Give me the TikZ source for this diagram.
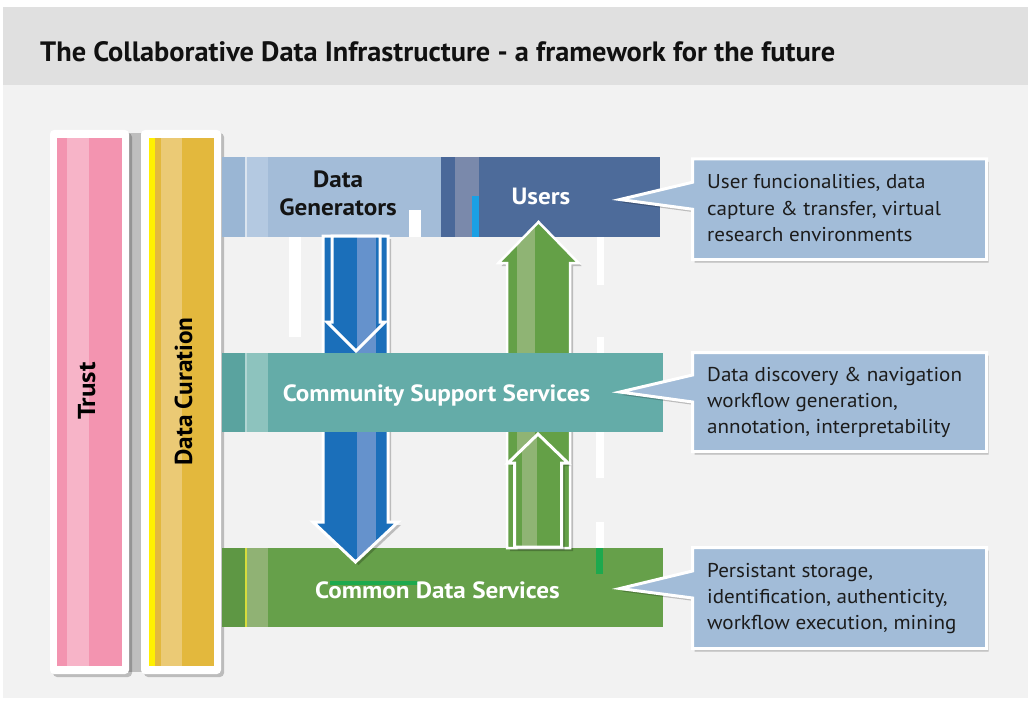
\documentclass[tikz,border=0pt]{standalone}
\usepackage{fontspec}
\usepackage{graphicx}
\setmainfont{PT Sans}
\usetikzlibrary{calc,shadows}
\definecolor{bgbar}{HTML}{E0E0E0}
\definecolor{bgmain}{HTML}{F2F2F2}
\definecolor{pinkbase}{HTML}{F394B0}
\definecolor{pinkstripe}{HTML}{F7B4C8}
\definecolor{goldbase}{HTML}{E3B83D}
\definecolor{goldstripe}{HTML}{EBCA75}
\definecolor{yellowline}{HTML}{FFF000}
\definecolor{gapgray}{HTML}{BEBEBE}
\definecolor{dgfill}{HTML}{A3BCD8}
\definecolor{dgleft}{HTML}{9AB6D4}
\definecolor{dgstripe}{HTML}{B4C9E1}
\definecolor{usersfill}{HTML}{4D6B9A}
\definecolor{usersleft}{HTML}{4A6899}
\definecolor{usersstripe}{HTML}{7A89AB}
\definecolor{cyanbar}{HTML}{1AA0E4}
\definecolor{cssfill}{HTML}{64ACA8}
\definecolor{cssleft}{HTML}{5AA39F}
\definecolor{cssstripe}{HTML}{8DC3BE}
\definecolor{cdsfill}{HTML}{66A04A}
\definecolor{cdsleft}{HTML}{5E9744}
\definecolor{cdsstripe}{HTML}{90B274}
\definecolor{cdsline}{HTML}{D6DC3C}
\definecolor{greenbar}{HTML}{1DA94E}
\definecolor{bluefill}{HTML}{1B6FBA}
\definecolor{bluestripe}{HTML}{6592CC}
\definecolor{greenfill}{HTML}{64A047}
\definecolor{greenstripe}{HTML}{8FB474}
\definecolor{callfill}{HTML}{A2BCD8}
\definecolor{calltextc}{HTML}{1C1C1C}
\definecolor{titletext}{HTML}{111111}
% #1 base coord, #2 tip coord, #3 shaft half width, #4 head half width, #5 head offset from tip (signed, y units)
\newcommand{\fatarrowpath}[5]{($(#1)+(-#3,0)$) -- ($(#1)+(#3,0)$) -- ($(#2)+(#3,#5)$) -- ($(#2)+(#4,#5)$) -- (#2) -- ($(#2)+(-#4,#5)$) -- ($(#2)+(-#3,#5)$) -- cycle}
\newcommand{\threelines}[3]{\vtop{\baselineskip=26pt\hbox{\scalebox{1.055}[1]{#1}}\hbox{\scalebox{1.055}[1]{#2}}\hbox{\scalebox{1.055}[1]{#3}}}}
\newcommand{\widebold}[1]{\scalebox{1.07}[1]{#1}}
\begin{document}
\begin{tikzpicture}[x=1pt,y=-1pt,
  band/.style={rectangle, inner sep=0pt, outer sep=0pt, draw=none},
  bandlabel/.style={inner sep=0pt, font=\fontsize{23.5}{28}\selectfont\bfseries, text=white},
  pillarlabel/.style={inner sep=0pt, font=\fontsize{24.5}{28}\selectfont\bfseries, text=black, rotate=90, anchor=base},
  calltext/.style={inner sep=0pt, anchor=base west, font=\fontsize{20}{26}\selectfont, text=calltextc},
  callbox/.style={fill=callfill, draw=white, line width=3pt, line join=miter,
    drop shadow={shadow xshift=2pt, shadow yshift=-3pt, opacity=.22, fill=black}},
  arrowline/.style={draw=white, line width=3pt, line join=miter},
  softshadow/.style={drop shadow={shadow xshift=3pt, shadow yshift=-3pt, opacity=.22, fill=black}}
]
\useasboundingbox (0,0) rectangle (1028,706);
% background
\fill[white] (0,0) rectangle (1028,706);
\fill[bgmain] (3,85) rectangle (1028,698);
\fill[bgbar] (3,7) rectangle (1028,85);
\node[anchor=base west, inner sep=0pt, text=titletext] (title) at (40,62)
  {\resizebox{795pt}{\height}{\fontsize{28}{30}\selectfont\bfseries The Collaborative Data Infrastructure - a framework for the future}};
% faint white artefacts in background
\fill[white] (289,237) rectangle (301,337);
\fill[white] (597,237) rectangle (604,285);
\fill[white] (597,337) rectangle (604,353);
\fill[white] (596,432) rectangle (604,478);
\fill[white] (596,522) rectangle (604,548);
% pillars
\fill[gapgray] (128,133) rectangle (142,672);
\node[band, fill=white, rounded corners=4pt, minimum width=79pt, minimum height=544pt, softshadow] (trustframe) at (89.5,402) {};
\node[band, fill=pinkbase, minimum width=65pt, minimum height=528pt] (trust) at (89.5,402) {};
\fill[pinkstripe] (67,138) rectangle (89,666);
\node[band, fill=white, rounded corners=4pt, minimum width=80pt, minimum height=544pt, softshadow] (curframe) at (181,402) {};
\node[band, fill=goldbase, minimum width=65pt, minimum height=528pt] (curation) at (181.5,402) {};
\fill[yellowline] (149,138) rectangle (155,666);
\fill[goldstripe] (161,138) rectangle (182,666);
\node[pillarlabel] (trustlbl) at (95,391) {\scalebox{1.1}[1]{Trust}};
\node[pillarlabel] (curlbl) at (192,391.5) {\scalebox{1.03}[1]{Data Curation}};
% top band
\node[band, fill=dgfill, minimum width=219pt, minimum height=80pt] (dg) at (331.5,197) {};
\fill[dgleft] (222,157) rectangle (245,237);
\fill[white!60!dgfill] (245,157) rectangle (246.5,237);
\fill[dgstripe] (246.5,157) rectangle (268,237);
\fill[white] (409,210) rectangle (421,237);
\node[band, fill=usersfill, minimum width=219pt, minimum height=80pt] (users) at (550.5,197) {};
\fill[usersleft] (441,157) rectangle (455,237);
\fill[usersstripe] (455,157) rectangle (479,237);
\fill[cyanbar] (472,196) rectangle (479,237);
% common data services band
\node[band, fill=cdsfill, minimum width=441pt, minimum height=79pt] (cds) at (442.5,587.5) {};
\fill[cdsleft] (222,548) rectangle (245,627);
\fill[cdsline] (245,548) rectangle (246.5,627);
\fill[cdsstripe] (246.5,548) rectangle (268,627);
\fill[greenbar] (596,548) rectangle (603,574);
\fill[greenbar] (330,581) rectangle (418,585);
% long arrows
\coordinate (bluetop) at (355.5,236);
\coordinate (bluetip) at (355.5,562);
\fill[bluefill, softshadow] \fatarrowpath{bluetop}{bluetip}{32.5}{42.5}{-40};
\begin{scope}
  \clip \fatarrowpath{bluetop}{bluetip}{32.5}{42.5}{-40};
  \fill[bluestripe] (357,200) rectangle (376,600);
\end{scope}
\draw[arrowline] \fatarrowpath{bluetop}{bluetip}{32.5}{42.5}{-40};
\coordinate (greenbase) at (538.5,548);
\coordinate (greentip) at (538.5,222);
\fill[greenfill, softshadow] \fatarrowpath{greenbase}{greentip}{31.5}{40}{41};
\begin{scope}
  \clip \fatarrowpath{greenbase}{greentip}{31.5}{40}{41};
  \fill[greenstripe] (517,200) rectangle (535,600);
\end{scope}
\draw[arrowline, line width=2.5pt] \fatarrowpath{greenbase}{greentip}{31.5}{40}{41};
% community support services band
\node[band, fill=cssfill, minimum width=441pt, minimum height=79pt] (css) at (442.5,392.5) {};
\fill[cssleft] (222,353) rectangle (245,432);
\fill[white!50!cssfill] (245,353) rectangle (246.5,432);
\fill[cssstripe] (246.5,353) rectangle (268,432);
% short arrows
\coordinate (sbluetop) at (356,236);
\coordinate (sbluetip) at (356,351);
\fill[bluefill] \fatarrowpath{sbluetop}{sbluetip}{24}{29}{-29};
\begin{scope}
  \clip \fatarrowpath{sbluetop}{sbluetip}{24}{29}{-29};
  \fill[bluestripe] (357,200) rectangle (376,400);
\end{scope}
\draw[arrowline] \fatarrowpath{sbluetop}{sbluetip}{24}{29}{-29};
\coordinate (sgreenbase) at (538,547);
\coordinate (sgreentip) at (538,434);
\fill[greenfill, softshadow] \fatarrowpath{sgreenbase}{sgreentip}{23.5}{30}{29};
\begin{scope}
  \clip \fatarrowpath{sgreenbase}{sgreentip}{23.5}{30}{29};
  \fill[greenstripe] (522,400) rectangle (537,600);
\end{scope}
\draw[arrowline] \fatarrowpath{sgreenbase}{sgreentip}{23.5}{30}{29};
% band labels
\node[bandlabel, text=black!92, anchor=base] (dglbl) at (338,187)
  {\vtop{\baselineskip=28pt\hbox to 0pt{\hss\widebold{Data}\hss}\hbox to 0pt{\hss\widebold{Generators}\hss}}};
\node[bandlabel, anchor=base] (userslbl) at (541,204) {\widebold{Users}};
\node[bandlabel, anchor=base] (csslbl) at (436.5,401) {\widebold{Community Support Services}};
\node[bandlabel, anchor=base] (cdslbl) at (437.5,598) {\widebold{Common Data Services}};
% callouts
\node[band, minimum width=294pt, minimum height=100.5pt] (c1) at (839.5,209.25) {};
\node[band, minimum width=294pt, minimum height=99pt] (c2) at (839.5,402) {};
\node[band, minimum width=294pt, minimum height=101pt] (c3) at (839.5,598) {};
\coordinate (p1) at (620,199.5);
\coordinate (p2) at (620,392);
\coordinate (p3) at (620,588.5);
\draw[callbox] (c1.north west) -- (c1.north east) -- (c1.south east) -- (c1.south west) -- (c1.west) -- (p1) -- ($(c1.west)+(0,-27)$) -- cycle;
\draw[callbox] (c2.north west) -- (c2.north east) -- (c2.south east) -- (c2.south west) -- (c2.west) -- (p2) -- ($(c2.west)+(0,-27)$) -- cycle;
\draw[callbox] (c3.north west) -- (c3.north east) -- (c3.south east) -- (c3.south west) -- (c3.west) -- (p3) -- ($(c3.west)+(0,-27)$) -- cycle;
\node[calltext] (t1) at (707,189) {\threelines{User funcionalities, data}{capture \& transfer, virtual}{research environments}};
\node[calltext] (t2) at (707,381) {\threelines{Data discovery \& navigation}{workflow generation,}{annotation, interpretability}};
\node[calltext] (t3) at (707,577) {\threelines{Persistant storage,}{identification, authenticity,}{workflow execution, mining}};
\end{tikzpicture}
\end{document}
